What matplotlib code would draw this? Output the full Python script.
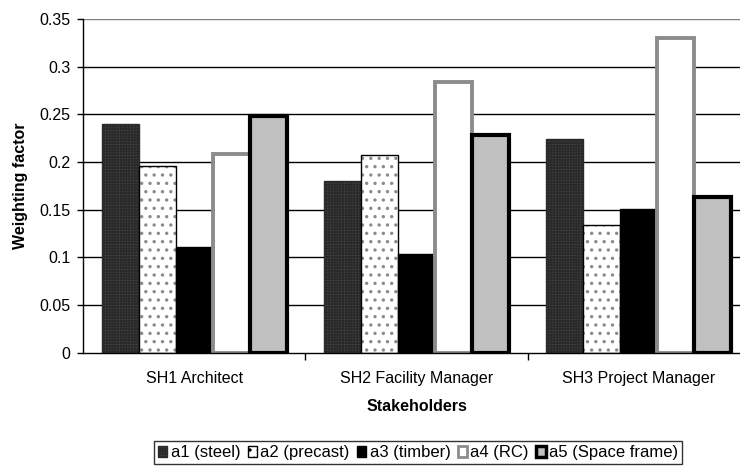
import matplotlib
matplotlib.use("Agg")
import matplotlib.pyplot as plt
import numpy as np
from matplotlib.patches import Patch

plt.rcParams['font.family'] = ['Liberation Sans', 'DejaVu Sans']

categories = ["SH1 Architect", "SH2 Facility Manager", "SH3 Project Manager"]
series_names = ["a1 (steel)", "a2 (precast)", "a3 (timber)", "a4 (RC)", "a5 (Space frame)"]
a1 = [0.240, 0.180, 0.224]
a2 = [0.196, 0.207, 0.134]
a3 = [0.111, 0.103, 0.151]
a4 = [0.208, 0.284, 0.330]
a5 = [0.248, 0.228, 0.163]
yticks = [0, 0.05, 0.1, 0.15, 0.2, 0.25, 0.3, 0.35]
ytick_labels = ["0", "0.05", "0.1", "0.15", "0.2", "0.25", "0.3", "0.35"]

FS = 11.5
W, H = 740, 466
fig = plt.figure(figsize=(W / 100, H / 100), dpi=100)
left, right, top, bottom = 83, 750, 19, 352.7
ax = fig.add_axes([left / W, (H - bottom) / H, (right - left) / W, (bottom - top) / H])

x = np.arange(len(categories))
bw = 1 / 6
offs = [(i - 2) * bw for i in range(5)]

for v in yticks[1:]:
    ax.axhline(v, color='#808080' if v == 0.35 else 'black', lw=1.0, zorder=1)

plt.rcParams['hatch.linewidth'] = 1.2
ax.bar(x + offs[0], a1, bw, color='#505050', edgecolor='#2a2a2a', hatch='++++++', lw=1.0, zorder=2)
ax.bar(x + offs[1], a2, bw, color='white', edgecolor='#8a8a8a', hatch='..', lw=0, zorder=2)
ax.bar(x + offs[1], a2, bw, fill=False, edgecolor='black', lw=1.0, zorder=3)
ax.bar(x + offs[2], a3, bw, color='black', edgecolor='black', lw=1.0, zorder=2)
ax.bar(x + offs[3], a4, bw, color='white', edgecolor='#8c8c8c', lw=2.8, zorder=2)
ax.bar(x + offs[4], a5, bw, color='#c0c0c0', edgecolor='black', lw=3.0, zorder=2)

ax.set_xlim(-0.5, 2.5)
ax.set_ylim(0, 0.35)
ax.set_yticks(yticks)
ax.set_yticklabels(ytick_labels, fontsize=FS)
ax.set_xticks([0.5, 1.5], minor=False)
ax.set_xticklabels([])
ax.set_xticks(x, minor=True)
ax.set_xticklabels(categories, minor=True, fontsize=FS)
ax.tick_params(axis='x', which='minor', length=0, pad=13)
ax.tick_params(axis='x', which='major', length=5, direction='out', width=1)
ax.tick_params(axis='y', length=4, direction='out', width=1, pad=5)

for s in ['top', 'right']:
    ax.spines[s].set_visible(False)
ax.spines['left'].set_linewidth(1.0)
ax.spines['bottom'].set_linewidth(1.0)

ax.set_ylabel("Weighting factor", fontsize=FS, fontweight='bold')
ax.yaxis.set_label_coords((28 - left) / (right - left), 0.5)
ax.set_xlabel("Stakeholders", fontsize=FS, fontweight='bold')
ax.xaxis.set_label_coords(0.5, (bottom - 399) / (bottom - top))

handles = [
    Patch(facecolor='#505050', edgecolor='#2a2a2a', hatch='++++++'),
    Patch(facecolor='white', edgecolor='black', hatch='..'),
    Patch(facecolor='black', edgecolor='black'),
    Patch(facecolor='white', edgecolor='#8c8c8c', lw=2),
    Patch(facecolor='#c0c0c0', edgecolor='black', lw=2.5),
]
leg = fig.legend(handles, series_names, loc='upper center', bbox_to_anchor=(418 / W, (H - 441) / H),
                 ncol=5, fontsize=12, frameon=True, fancybox=False, edgecolor='black',
                 handlelength=0.55, handleheight=0.6, handletextpad=0.2, columnspacing=0.45,
                 borderpad=0.25, borderaxespad=0)
leg.get_frame().set_linewidth(1.0)

fig.savefig("out.png", dpi=100)
